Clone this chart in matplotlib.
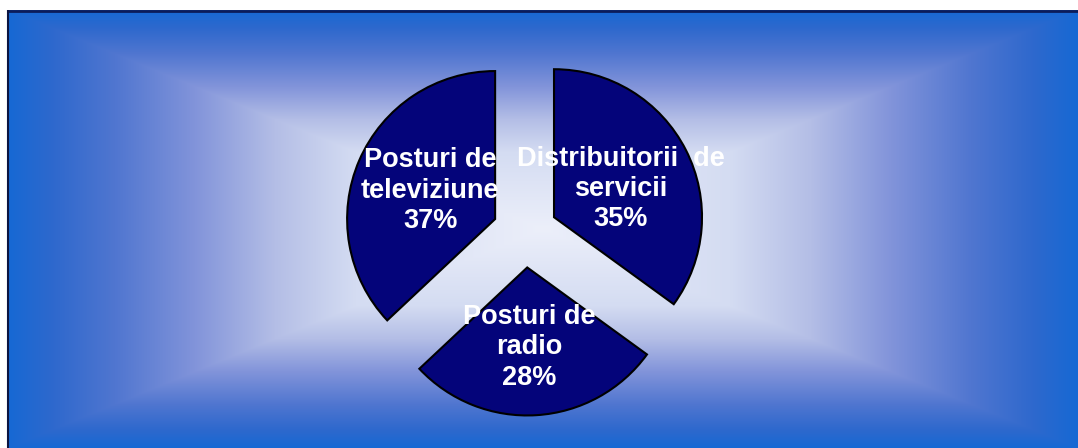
import numpy as np
import matplotlib
matplotlib.use("Agg")
import matplotlib.pyplot as plt

# ---- data ----
categories = ["Distribuitorii  de\nservicii", "Posturi de\nradio", "Posturi de\nteleviziune"]
values = [35, 28, 37]

W, H = 1078, 448
fig = plt.figure(figsize=(W / 100, H / 100), dpi=100)
fig.patch.set_facecolor("white")

# ---- background gradient (rectangular, from center) ----
bg = fig.add_axes([0, 0, 1, 1])
bg.set_xlim(0, W)
bg.set_ylim(0, H)
bg.axis("off")
x0, x1, y0, y1 = 8, W, 0, 438
cx, cy = (x0 + x1) / 2, (y0 + y1) / 2
hw, hh = (x1 - x0) / 2, (y1 - y0) / 2
ex1, ey0 = W + 10, -10  # extend past figure edges to avoid edge artefacts
xs = np.arange(x0, ex1) + 0.5
ys = np.arange(ey0, y1) + 0.5
X, Y = np.meshgrid(xs, ys)
t = np.minimum(np.maximum(np.abs(X - cx) / hw, np.abs(Y - cy) / hh), 1.0)
stops_t = [0.0, 0.35, 0.5, 0.65, 0.8, 0.92, 1.0]
stops_c = np.array([(236, 239, 250), (212, 220, 242), (180, 190, 230),
                    (130, 148, 218), (80, 118, 208), (45, 104, 205), (22, 104, 212)]) / 255.0
img = np.zeros(t.shape + (3,))
for k in range(3):
    img[..., k] = np.interp(t, stops_t, stops_c[:, k])
bg.imshow(img, extent=(x0, ex1, ey0, y1), origin="lower", aspect="auto", interpolation="nearest")
bg.set_xlim(0, W)
bg.set_ylim(0, H)
bg.plot([x0, W + 5], [y1 - 0.8, y1 - 0.8], color="#0c1c5a", lw=2.0, solid_capstyle="butt")
bg.plot([x0 - 0.2, x0 - 0.2], [-5, y1], color="#0a1440", lw=1.5, solid_capstyle="butt")

# ---- pie ----
R = 148.0
pcx, pcy = 525, H - 232
k = 1.5
size = 2 * k * R
pie_ax = fig.add_axes([(pcx - size / 2) / W, (pcy - size / 2) / H, size / W, size / H])
pie_ax.patch.set_alpha(0)
wedges, _ = pie_ax.pie(values, startangle=90, counterclock=False,
                       explode=[0.22, 0.24, 0.22],
                       colors=["#04047a"] * len(values),
                       wedgeprops=dict(edgecolor="black", linewidth=1.5))
pie_ax.set_xlim(-k, k)
pie_ax.set_ylim(-k, k)
pie_ax.set_aspect("equal")
pie_ax.axis("off")

label_pos = [(0.645, 0.29), (0.03, -0.78), (-0.64, 0.28)]
for name, v, (lx, ly) in zip(categories, values, label_pos):
    pie_ax.text(lx, ly, f"{name}\n{v}%", ha="center", va="center", color="white",
                fontsize=19.5, fontweight="bold", family=["Liberation Sans", "DejaVu Sans"],
                linespacing=1.22)

fig.savefig("out.png", dpi=100)
